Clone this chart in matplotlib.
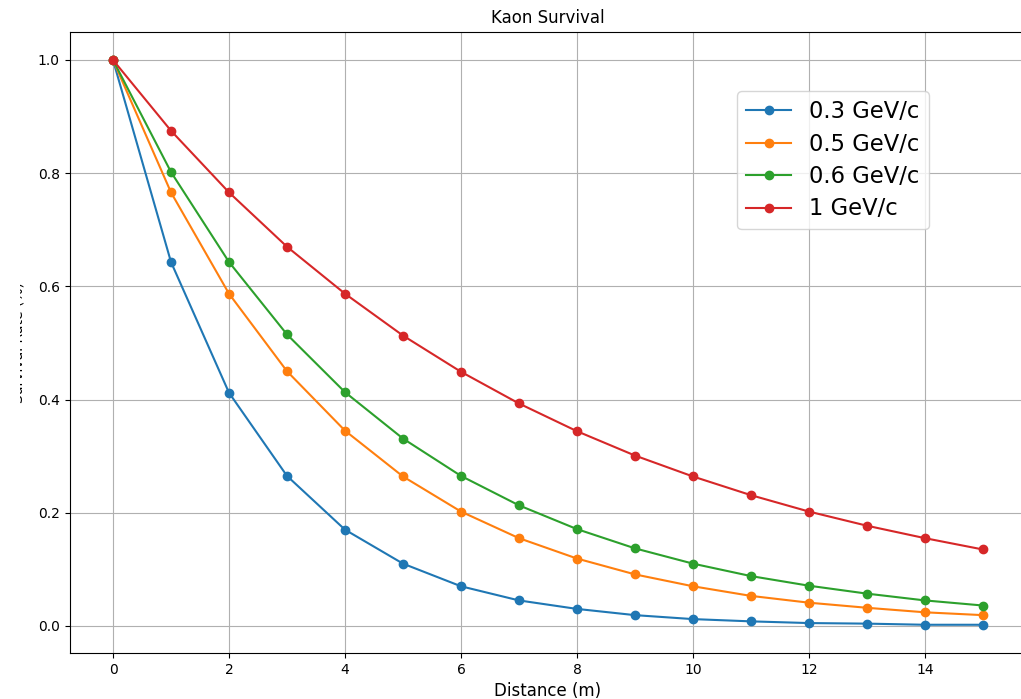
import matplotlib
matplotlib.use("Agg")
import matplotlib.pyplot as plt
from matplotlib.transforms import Bbox

distance = list(range(16))

p03 = [1.0, 0.643, 0.412, 0.265, 0.170, 0.110, 0.070, 0.045, 0.030, 0.019,
       0.012, 0.008, 0.005, 0.004, 0.002, 0.002]
p05 = [1.0, 0.766, 0.587, 0.450, 0.345, 0.264, 0.202, 0.155, 0.119, 0.091,
       0.070, 0.053, 0.041, 0.032, 0.024, 0.019]
p06 = [1.0, 0.802, 0.643, 0.515, 0.413, 0.331, 0.265, 0.213, 0.171, 0.137,
       0.110, 0.088, 0.071, 0.057, 0.045, 0.036]
p1 = [1.0, 0.875, 0.766, 0.670, 0.587, 0.513, 0.449, 0.393, 0.344, 0.301,
      0.264, 0.231, 0.202, 0.177, 0.155, 0.135]

labels = ["0.3 GeV/c", "0.5 GeV/c", "0.6 GeV/c", "1 GeV/c"]

W, H = 1021, 699
fig = plt.figure(figsize=(W / 100, H / 100), dpi=100)
# axes runs slightly past the right edge, like the cropped original
ax = fig.add_axes([69.5 / W, (H - 653) / H, (1026.5 - 69.5) / W, (653 - 31.75) / H])

for ys, lab in zip([p03, p05, p06, p1], labels):
    ax.plot(distance, ys, marker="o", label=lab)

ax.set_title("Kaon Survival")
ax.set_xlabel("Distance (m)", fontsize=12)
ylab = ax.set_ylabel("Survival Rate (%)", labelpad=8.5)
ax.grid(True)
ax.legend(fontsize=16.25, loc="upper left", borderaxespad=0, labelspacing=0.42,
          bbox_to_anchor=((737 - 69.5) / 957, (653 - 91) / 621.25))

# left part of the y label is cut off in the reference
ylab.set_clip_box(Bbox([[20, 0], [W, H]]))
ylab.set_clip_on(True)

fig.savefig("out.png", dpi=100)
